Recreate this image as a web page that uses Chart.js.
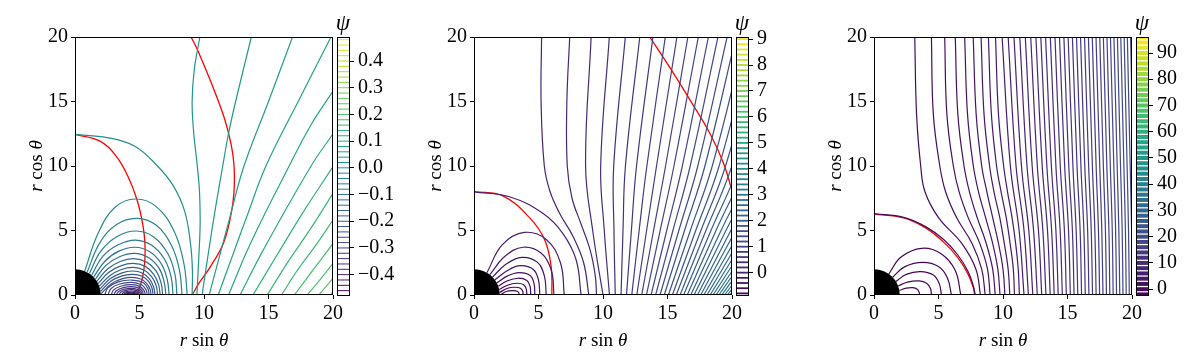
<!DOCTYPE html>
<html>
<head>
<meta charset="utf-8">
<title>Stream function contours</title>
<script src="https://cdn.jsdelivr.net/npm/chart.js@4.4.1/dist/chart.umd.min.js"></script>
<style>
  html, body { margin: 0; padding: 0; background: #fff; }
  body { width: 1200px; height: 360px; position: relative; overflow: hidden;
         font-family: "Liberation Serif", "DejaVu Serif", serif; color: #000; }
  .panel { position: absolute; top: 0; width: 400px; height: 360px; }
  .panel canvas { position: absolute; top: 0; }
  .xlabel { position: absolute; left: 144px; top: 329px; width: 120px; line-height: 22px;
            text-align: center; font-size: 19px; white-space: nowrap; }
  .ylabel { position: absolute; left: -24px; top: 155px; width: 120px; line-height: 22px;
            text-align: center; font-size: 19px; white-space: nowrap; transform: rotate(-90deg); }
  .psi { position: absolute; left: 328px; top: 11px; width: 30px; line-height: 24px;
         text-align: center; font-size: 23px; font-style: italic; }
</style>
</head>
<body>

<div class="panel" style="left:0px">
  <canvas id="mainA" width="350" height="360" style="left:0"></canvas>
  <canvas id="cbarA" width="70" height="360" style="left:330px"></canvas>
  <div class="xlabel"><i>r</i> sin <i>θ</i></div>
  <div class="ylabel"><i>r</i> cos <i>θ</i></div>
  <div class="psi">ψ</div>
</div>
<div class="panel" style="left:399px">
  <canvas id="mainB" width="350" height="360" style="left:0"></canvas>
  <canvas id="cbarB" width="70" height="360" style="left:330px"></canvas>
  <div class="xlabel"><i>r</i> sin <i>θ</i></div>
  <div class="ylabel"><i>r</i> cos <i>θ</i></div>
  <div class="psi">ψ</div>
</div>
<div class="panel" style="left:799px">
  <canvas id="mainC" width="350" height="360" style="left:0"></canvas>
  <canvas id="cbarC" width="70" height="360" style="left:330px"></canvas>
  <div class="xlabel"><i>r</i> sin <i>θ</i></div>
  <div class="ylabel"><i>r</i> cos <i>θ</i></div>
  <div class="psi">ψ</div>
</div>

<script>
// axes shared by all three panels
const axisTicks = [0, 5, 10, 15, 20];
const horizonRadius = 2;

// ---------- panel A ----------
const aCbarRange = [-0.48, 0.49];
const aCbarLevels = [-0.48,-0.46,-0.44,-0.42,-0.40,-0.38,-0.36,-0.34,-0.32,-0.30,-0.28,-0.26,-0.24,-0.22,-0.20,-0.18,-0.16,-0.14,-0.12,-0.10,-0.08,-0.06,-0.04,-0.02,0.00,0.02,0.04,0.06,0.08,0.10,0.12,0.14,0.16,0.18,0.20,0.22,0.24,0.26,0.28,0.30,0.32,0.34,0.36,0.38,0.40,0.42,0.44,0.46,0.48];
const aCbarTicks = [-0.4, -0.3, -0.2, -0.1, 0, 0.1, 0.2, 0.3, 0.4];
const aCbarLabels = ['−0.4', '−0.3', '−0.2', '−0.1', '0.0', '0.1', '0.2', '0.3', '0.4'];

const aLoopLevels = [-0.02,-0.04,-0.06,-0.08,-0.10,-0.12,-0.14,-0.16,-0.18,-0.20,-0.22,-0.24,-0.26,-0.28,-0.30,-0.32,-0.34,-0.36,-0.38,-0.40,-0.42,-0.44,-0.46];
const aLoops = [
  [[0.75,1.85],[1.8,4.8],[3.1,6.8],[4.7,7.44],[6.3,6.85],[7.7,4.9],[8.45,2.4],[8.7,0]],
  [[0.94,1.77],[1.9,4.0],[3.2,5.45],[4.8,5.94],[6.3,5.4],[7.5,3.8],[8.1,1.9],[8.3,0]],
  [[1.12,1.66],[2.0,3.4],[3.3,4.55],[4.75,4.96],[6.1,4.5],[7.2,3.2],[7.75,1.6],[7.9,0]],
  [[1.29,1.53],[2.15,3.0],[3.35,3.9],[4.7,4.26],[5.95,3.85],[6.95,2.75],[7.45,1.4],[7.6,0]],
  [[1.44,1.39],[2.3,2.6],[3.4,3.4],[4.65,3.7],[5.8,3.35],[6.7,2.4],[7.15,1.2],[7.3,0]],
  [[1.58,1.23],[2.4,2.3],[3.45,2.97],[4.6,3.23],[5.65,2.92],[6.5,2.1],[6.9,1.05],[7.05,0]],
  [[1.70,1.06],[2.5,2.0],[3.5,2.6],[4.55,2.82],[5.55,2.55],[6.3,1.85],[6.68,0.9],[6.8,0]],
  [[1.80,0.88],[2.6,1.75],[3.55,2.26],[4.5,2.45],[5.45,2.22],[6.1,1.6],[6.48,0.8],[6.6,0]],
  [[1.88,0.68],[2.7,1.5],[3.6,1.98],[4.5,2.14],[5.35,1.94],[5.95,1.4],[6.3,0.7],[6.4,0]],
  [[1.94,0.48],[2.75,1.28],[3.65,1.72],[4.45,1.86],[5.25,1.69],[5.8,1.22],[6.1,0.6],[6.2,0]],
  [[1.98,0.28],[2.8,1.08],[3.65,1.48],[4.45,1.60],[5.2,1.45],[5.7,1.05],[5.97,0.52],[6.05,0]],
  [[2.0,0.07],[2.85,0.9],[3.7,1.27],[4.4,1.37],[5.1,1.24],[5.55,0.9],[5.82,0.45],[5.9,0]],
  [[2.3,0],[2.55,0.55],[3.3,1.0],[4.4,1.16],[5.3,0.95],[5.65,0.5],[5.75,0]],
  [[2.55,0],[2.8,0.5],[3.45,0.85],[4.4,0.98],[5.15,0.8],[5.5,0.42],[5.6,0]],
  [[2.8,0],[3.0,0.4],[3.6,0.7],[4.4,0.8],[5.05,0.65],[5.35,0.34],[5.45,0]],
  [[3.0,0],[3.2,0.33],[3.75,0.57],[4.4,0.65],[4.95,0.53],[5.22,0.28],[5.3,0]],
  [[3.2,0],[3.38,0.27],[3.85,0.46],[4.35,0.52],[4.85,0.43],[5.12,0.22],[5.2,0]],
  [[3.4,0],[3.55,0.21],[3.95,0.36],[4.35,0.41],[4.78,0.34],[5.02,0.18],[5.1,0]],
  [[3.6,0],[3.72,0.16],[4.05,0.27],[4.35,0.31],[4.7,0.26],[4.92,0.13],[5.0,0]],
  [[3.75,0],[3.85,0.11],[4.1,0.19],[4.35,0.22],[4.62,0.18],[4.83,0.09],[4.9,0]],
  [[3.9,0],[3.98,0.08],[4.15,0.13],[4.35,0.15],[4.57,0.12],[4.74,0.06],[4.8,0]],
  [[4.05,0],[4.1,0.05],[4.22,0.08],[4.35,0.09],[4.5,0.07],[4.61,0.04],[4.65,0]],
  [[4.2,0],[4.25,0.03],[4.35,0.04],[4.45,0.03],[4.5,0]]
];

const aOpenLevels = [0.00, 0.02, 0.04, 0.06, 0.08, 0.10, 0.12, 0.14, 0.16, 0.18, 0.20, 0.22, 0.24, 0.26];
const aOpen = [
  [[0,12.45],[2.5,12.2],[4.6,11.55],[6.3,10.1],[7.6,8.5],[8.5,6.5],[8.95,4.0],[9.1,2.0],[9.08,0]],
  [[9.68,20],[9.25,17.5],[9.08,15],[9.2,12.6],[9.47,10.1],[9.65,8],[9.7,5.5],[9.6,3],[9.45,0]],
  [[13.67,20],[12.45,15],[11.9,12.5],[11.45,10],[10.85,6.5],[10.3,3],[9.85,0]],
  [[16.86,20],[15.0,15],[13.1,10],[12.0,6],[11.2,3],[10.4,0]],
  [[19.84,20],[17.3,15],[14.8,10],[13.4,6.3],[12.3,3.3],[11.1,0]],
  [[11.9,0],[13.6,4],[16.6,10],[18.3,13.2],[20,15.8]],
  [[12.8,0],[14.6,3.5],[18.3,10],[20,12.5]],
  [[13.8,0],[15.6,3],[17.8,6.6],[20,9.95]],
  [[14.9,0],[16.6,2.7],[18.3,5.2],[20,7.88]],
  [[16.0,0],[17.3,2.0],[18.7,3.9],[20,5.81]],
  [[17.0,0],[18.5,2.0],[20,4.0]],
  [[18.0,0],[19.0,1.2],[20,2.45]],
  [[18.9,0],[20,1.29]],
  [[19.8,0],[20,0.26]]
];
const aRedInner = [[0,12.45],[1.9,11.95],[3.2,10.75],[4.1,9.2],[4.8,7.4],[5.25,5.5],[5.42,4.0],[5.4,2.5],[5.2,1.2],[4.8,0]];
const aRedOuter = [[9.0,20],[9.5,19.0],[10.5,16.6],[11.55,13.8],[12.1,11.7],[12.33,10.0],[12.32,7.9],[12.06,6.07],[11.5,4.0],[10.5,2.2],[9.6,0.9],[9.08,0]];

// ---------- panel B ----------
const bCbarRange = [-0.9, 9.08];
const bCbarLevels = [-0.8,-0.6,-0.4,-0.2,0,0.2,0.4,0.6,0.8,1.0,1.2,1.4,1.6,1.8,2.0,2.2,2.4,2.6,2.8,3.0,3.2,3.4,3.6,3.8,4.0,4.2,4.4,4.6,4.8,5.0,5.2,5.4,5.6,5.8,6.0,6.2,6.4,6.6,6.8,7.0,7.2,7.4,7.6,7.8,8.0,8.2,8.4,8.6,8.8,9.0];
const bCbarTicks = [0, 1, 2, 3, 4, 5, 6, 7, 8, 9];
const bCbarLabels = ['0', '1', '2', '3', '4', '5', '6', '7', '8', '9'];

const bLoopLevels = [-0.1, -0.2, -0.3, -0.4, -0.5, -0.6, -0.7, -0.8, -0.85];
const bLoops = [
  [[1.0,1.73],[2.2,3.9],[3.9,4.85],[5.6,4.3],[6.7,2.5],[7.0,0]],
  [[1.23,1.58],[2.4,3.0],[3.8,3.7],[5.2,3.25],[6.0,1.9],[6.2,0]],
  [[1.44,1.39],[2.5,2.4],[3.7,2.92],[4.9,2.55],[5.45,1.5],[5.6,0]],
  [[1.62,1.18],[2.6,1.9],[3.6,2.27],[4.6,1.98],[5.0,1.15],[5.1,0]],
  [[1.77,0.94],[2.6,1.48],[3.5,1.74],[4.35,1.52],[4.65,0.9],[4.72,0]],
  [[1.88,0.68],[2.6,1.1],[3.4,1.3],[4.1,1.13],[4.35,0.65],[4.4,0]],
  [[1.96,0.42],[2.6,0.76],[3.3,0.91],[3.85,0.8],[4.05,0.45],[4.1,0]],
  [[1.99,0.2],[2.55,0.5],[3.15,0.6],[3.6,0.52],[3.78,0.28],[3.8,0]],
  [[2.05,0],[2.5,0.27],[3.0,0.34],[3.35,0.29],[3.48,0.15],[3.5,0]]
];
const bSeparatrix = [[0,8.0],[2.75,7.62],[5.33,6.33],[6.88,4.78],[7.92,2.71],[8.3,0]];
const bNearLevels = [0.1, 0.2];
const bNear = [
  [[5.24,20],[5.2,15],[5.45,10],[5.9,8],[6.6,6.4],[7.7,4.5],[8.5,2.5],[8.9,0]],
  [[7.42,20],[7.2,15],[7.23,10],[7.6,7.5],[8.3,5.5],[9.0,3.5],[9.4,1.5],[9.5,0]]
];
const bFarY = [20, 10, 5, 0];
const bFarLevels = [0.3,0.4,0.5,0.6,0.7,0.8,0.9,1.0,1.1,1.2,1.3,1.4,1.5,1.6,1.7,1.8,1.9,2.0,2.1,2.2,2.3,2.4,2.5,2.6,2.7,2.8,2.9,3.0,3.1,3.2,3.3,3.4,3.5,3.6];
const bFarX = [
  [9.08, 8.65, 9.2, 10.0],
  [10.49, 9.82, 10.1, 10.5],
  [11.73, 10.83, 10.85, 10.95],
  [12.85, 11.74, 11.55, 11.4],
  [13.87, 12.6, 12.2, 11.82],
  [14.83, 13.4, 12.8, 12.23],
  [15.73, 14.15, 13.38, 12.62],
  [16.58, 14.85, 13.92, 13.0],
  [17.39, 15.5, 14.43, 13.37],
  [18.17, 16.15, 14.94, 13.73],
  [18.91, 16.76, 15.42, 14.08],
  [19.62, 17.35, 15.88, 14.42],
  [20.3, 17.9, 16.32, 14.75],
  [21.0, 18.47, 16.77, 15.07],
  [21.6, 19.0, 17.19, 15.38],
  [22.2, 19.5, 17.59, 15.68],
  [22.8, 19.99, 17.98, 15.97],
  [23.4, 20.5, 18.37, 16.25],
  [24.0, 21.0, 18.76, 16.53],
  [24.6, 21.5, 19.15, 16.8],
  [25.2, 22.0, 19.53, 17.06],
  [25.8, 22.5, 19.91, 17.32],
  [26.4, 23.0, 20.28, 17.57],
  [27.0, 23.5, 20.66, 17.82],
  [27.6, 24.0, 21.03, 18.06],
  [28.2, 24.5, 21.4, 18.3],
  [28.8, 25.0, 21.77, 18.53],
  [29.4, 25.5, 22.13, 18.76],
  [30.0, 26.0, 22.49, 18.98],
  [30.6, 26.5, 22.85, 19.2],
  [31.2, 27.0, 23.21, 19.42],
  [31.8, 27.5, 23.57, 19.63],
  [32.4, 28.0, 23.92, 19.84],
  [33.0, 28.5, 24.27, 20.05]
];
const bRedInner = [[0,8.02],[2.23,7.68],[4.3,6.0],[5.47,4.3],[5.98,2.2],[6.04,0]];
const bRedOuter = [[13.63,20],[15.2,17.6],[16.75,15.1],[18.3,12.5],[19.35,10.2],[20,8.1]];

// ---------- panel C ----------
const cCbarRange = [-2.6, 96.1];
const cCbarLevels = [-2,0,2,4,6,8,10,12,14,16,18,20,22,24,26,28,30,32,34,36,38,40,42,44,46,48,50,52,54,56,58,60,62,64,66,68,70,72,74,76,78,80,82,84,86,88,90,92,94,96];
const cCbarTicks = [0, 10, 20, 30, 40, 50, 60, 70, 80, 90];
const cCbarLabels = ['0', '10', '20', '30', '40', '50', '60', '70', '80', '90'];

const cLoopLevels = [-1.5, -1.2, -0.9, -0.6, -0.3];
const cLoops = [
  [[1.15,1.64],[2.1,2.95],[3.7,3.62],[5.2,3.2],[6.3,1.9],[6.73,0]],
  [[1.45,1.38],[2.4,2.2],[3.8,2.53],[5.0,2.2],[5.7,1.3],[6.0,0]],
  [[1.7,1.05],[2.5,1.6],[3.6,1.81],[4.6,1.55],[5.05,0.9],[5.23,0]],
  [[1.87,0.7],[2.6,1.0],[3.5,1.09],[4.1,0.9],[4.38,0.5],[4.45,0]],
  [[1.97,0.35],[2.5,0.53],[3.0,0.57],[3.35,0.45],[3.5,0.2],[3.54,0]]
];
const cSeparatrix = [[0,6.3],[2.3,6.02],[4.0,5.3],[5.4,4.3],[6.5,3.1],[7.3,1.8],[7.7,0.7],[7.85,0]];
const cNearY = [20, 14, 10, 8, 6, 4, 2, 0];
const cNearLevels = [0.5, 1.0, 1.5, 2.0, 2.5, 3.0, 3.5, 4.0, 4.5];
const cNearX = [
  [3.16, 3.3, 3.62, 3.95, 5.0, 6.8, 7.9, 8.25],
  [4.45, 4.6, 5.1, 5.55, 6.4, 7.6, 8.35, 8.62],
  [5.48, 5.65, 6.15, 6.6, 7.3, 8.2, 8.8, 9.0],
  [6.3, 6.5, 6.98, 7.4, 8.0, 8.7, 9.2, 9.4],
  [7.03, 7.25, 7.7, 8.1, 8.65, 9.2, 9.6, 9.77],
  [7.69, 7.92, 8.35, 8.75, 9.2, 9.65, 10.0, 10.15],
  [8.3, 8.53, 8.96, 9.3, 9.75, 10.1, 10.4, 10.53],
  [8.87, 9.1, 9.5, 9.85, 10.25, 10.55, 10.8, 10.89],
  [9.42, 9.65, 10.05, 10.35, 10.7, 10.98, 11.18, 11.27]
];
const cFarY = [20, 10, 5, 0];
const cFarLevels = [5.0,5.5,6.0,6.5,7.0,7.5,8.0,8.5,9.0,9.5,10.0,10.5,11.0,11.5,12.0,12.5,13.0,13.5,14.0,14.5,15.0,15.5,16.0,16.5,17.0,17.5,18.0,18.5,19.0,19.5,20.0];
const cFarX = [
  [9.93, 10.57, 11.25, 11.63],
  [10.40, 11.01, 11.63, 11.97],
  [10.85, 11.43, 12.0, 12.31],
  [11.30, 11.86, 12.37, 12.66],
  [11.73, 12.26, 12.75, 13.0],
  [12.15, 12.66, 13.09, 13.33],
  [12.55, 13.04, 13.45, 13.66],
  [12.93, 13.4, 13.77, 13.97],
  [13.30, 13.75, 14.1, 14.28],
  [13.67, 14.1, 14.43, 14.6],
  [14.03, 14.44, 14.76, 14.91],
  [14.38, 14.78, 15.08, 15.22],
  [14.72, 15.1, 15.38, 15.51],
  [15.05, 15.42, 15.67, 15.8],
  [15.38, 15.74, 15.98, 16.09],
  [15.70, 16.04, 16.27, 16.38],
  [16.01, 16.34, 16.56, 16.66],
  [16.32, 16.64, 16.84, 16.94],
  [16.62, 16.93, 17.12, 17.22],
  [16.92, 17.22, 17.4, 17.49],
  [17.21, 17.5, 17.66, 17.75],
  [17.50, 17.78, 17.94, 18.02],
  [17.78, 18.05, 18.21, 18.28],
  [18.06, 18.32, 18.47, 18.54],
  [18.33, 18.59, 18.73, 18.8],
  [18.60, 18.85, 18.98, 19.05],
  [18.87, 19.11, 19.24, 19.3],
  [19.13, 19.37, 19.49, 19.55],
  [19.39, 19.62, 19.73, 19.79],
  [19.64, 19.86, 19.97, 20.03],
  [19.89, 20.11, 20.21, 20.27]
];
const cRed = [[0,6.28],[2.3,5.98],[4.0,5.2],[5.4,4.1],[6.5,2.9],[7.3,1.6],[7.7,0.55],[7.8,0]];

// ---------- helpers ----------
const viridisStops = [[68,1,84],[72,36,117],[65,68,135],[53,95,141],[42,120,142],[33,145,140],[34,168,132],[68,191,112],[122,209,81],[189,223,38],[253,231,37]];
function viridis(t) {
  t = Math.min(1, Math.max(0, t));
  const s = t * 10, i = Math.min(9, Math.floor(s)), f = s - i;
  const a = viridisStops[i], b = viridisStops[i + 1];
  const c = a.map((v, k) => Math.round(v + (b[k] - v) * f));
  return 'rgb(' + c.join(',') + ')';
}
const toPoints = list => list.map(p => ({ x: p[0], y: p[1] }));
const fromTable = (ys, rows) => rows.map(r => r.map((x, i) => ({ x: x, y: ys[i] })));

const serif = '"Liberation Serif", "DejaVu Serif", serif';
Chart.defaults.font.family = serif;
Chart.defaults.color = '#000';

// black frame round the plotting area
const framePlugin = {
  id: 'frame',
  afterDraw(chart) {
    const a = chart.chartArea, ctx = chart.ctx;
    ctx.save();
    ctx.strokeStyle = '#000';
    ctx.lineWidth = 1;
    ctx.strokeRect(Math.round(a.left) + 0.5, Math.round(a.top) + 0.5,
                   Math.round(a.right - a.left) - 1, Math.round(a.bottom - a.top) - 1);
    ctx.restore();
  }
};
// the black hole disc, sized through the axes
const horizonPlugin = {
  id: 'horizon',
  afterDatasetsDraw(chart) {
    const { ctx, chartArea: a, scales } = chart;
    const cx = scales.x.getPixelForValue(0), cy = scales.y.getPixelForValue(0);
    const rx = scales.x.getPixelForValue(horizonRadius) - cx;
    const ry = cy - scales.y.getPixelForValue(horizonRadius);
    ctx.save();
    ctx.beginPath();
    ctx.rect(a.left, a.top, a.right - a.left, a.bottom - a.top);
    ctx.clip();
    ctx.beginPath();
    ctx.ellipse(cx, cy, rx, ry, 0, 0, Math.PI * 2);
    ctx.fillStyle = '#000';
    ctx.fill();
    ctx.restore();
  }
};

function tickAxis(extra) {
  return Object.assign({
    type: 'linear', min: 0, max: 20,
    afterBuildTicks: s => { s.ticks = axisTicks.map(v => ({ value: v })); },
    grid: { drawOnChartArea: false, drawTicks: true, tickLength: 4, color: '#000', tickColor: '#000' },
    border: { display: false },
    ticks: { font: { size: 20 }, color: '#000', maxRotation: 0, autoSkip: false }
  }, extra);
}

function drawPanel(id, range, lines, reds) {
  const norm = lev => (lev - range[0]) / (range[1] - range[0]);
  const datasets = lines.map(l => ({
    data: l.pts, borderColor: viridis(norm(l.level)), borderWidth: 1.2,
    pointRadius: 0, tension: 0.4, fill: false
  }));
  reds.forEach(r => datasets.push({
    data: toPoints(r), borderColor: '#ff0000', borderWidth: 1.3, pointRadius: 0, tension: 0.4, fill: false
  }));
  new Chart(document.getElementById(id), {
    type: 'line',
    data: { datasets: datasets },
    options: {
      animation: false, responsive: false, events: [],
      layout: { padding: { top: 37, right: 17, left: 0, bottom: 0 } },
      plugins: { legend: { display: false }, tooltip: { enabled: false } },
      scales: {
        x: tickAxis({ afterFit: s => { s.height = 65; } }),
        y: tickAxis({ afterFit: s => { s.width = 75; } })
      }
    },
    plugins: [horizonPlugin, framePlugin]
  });
}

function drawColorbar(id, range, levels, ticks, labels, width) {
  const norm = lev => (lev - range[0]) / (range[1] - range[0]);
  new Chart(document.getElementById(id), {
    type: 'line',
    data: {
      datasets: levels.map(lev => ({
        data: [{ x: 0, y: lev }, { x: 1, y: lev }],
        borderColor: viridis(norm(lev)), borderWidth: width, pointRadius: 0
      }))
    },
    options: {
      animation: false, responsive: false, events: [],
      layout: { padding: { top: 37, bottom: 64, left: 7, right: 0 } },
      plugins: { legend: { display: false }, tooltip: { enabled: false } },
      scales: {
        x: { type: 'linear', min: 0, max: 1, display: false },
        y: {
          type: 'linear', position: 'right', min: range[0], max: range[1],
          afterBuildTicks: s => { s.ticks = ticks.map(v => ({ value: v })); },
          afterFit: s => { s.width = 50; },
          grid: { drawOnChartArea: false, drawTicks: true, tickLength: 4, color: '#000', tickColor: '#000' },
          border: { display: false },
          ticks: { font: { size: 20 }, color: '#000', padding: 4, autoSkip: false,
                   callback: v => labels[ticks.indexOf(v)] }
        }
      }
    },
    plugins: [framePlugin]
  });
}

// ---------- assemble ----------
const linesA = []
  .concat(aLoops.map((l, i) => ({ pts: toPoints(l), level: aLoopLevels[i] })))
  .concat(aOpen.map((l, i) => ({ pts: toPoints(l), level: aOpenLevels[i] })));
drawPanel('mainA', aCbarRange, linesA, [aRedInner, aRedOuter]);
drawColorbar('cbarA', aCbarRange, aCbarLevels, aCbarTicks, aCbarLabels, 1);

const linesB = []
  .concat(bLoops.map((l, i) => ({ pts: toPoints(l), level: bLoopLevels[i] })))
  .concat([{ pts: toPoints(bSeparatrix), level: 0 }])
  .concat(bNear.map((l, i) => ({ pts: toPoints(l), level: bNearLevels[i] })))
  .concat(fromTable(bFarY, bFarX).map((p, i) => ({ pts: p, level: bFarLevels[i] })));
drawPanel('mainB', bCbarRange, linesB, [bRedInner, bRedOuter]);
drawColorbar('cbarB', bCbarRange, bCbarLevels, bCbarTicks, bCbarLabels, 1.8);

const linesC = []
  .concat(cLoops.map((l, i) => ({ pts: toPoints(l), level: cLoopLevels[i] })))
  .concat([{ pts: toPoints(cSeparatrix), level: 0 }])
  .concat(fromTable(cNearY, cNearX).map((p, i) => ({ pts: p, level: cNearLevels[i] })))
  .concat(fromTable(cFarY, cFarX).map((p, i) => ({ pts: p, level: cFarLevels[i] })));
drawPanel('mainC', cCbarRange, linesC, [cRed]);
drawColorbar('cbarC', cCbarRange, cCbarLevels, cCbarTicks, cCbarLabels, 4);
</script>
</body>
</html>
